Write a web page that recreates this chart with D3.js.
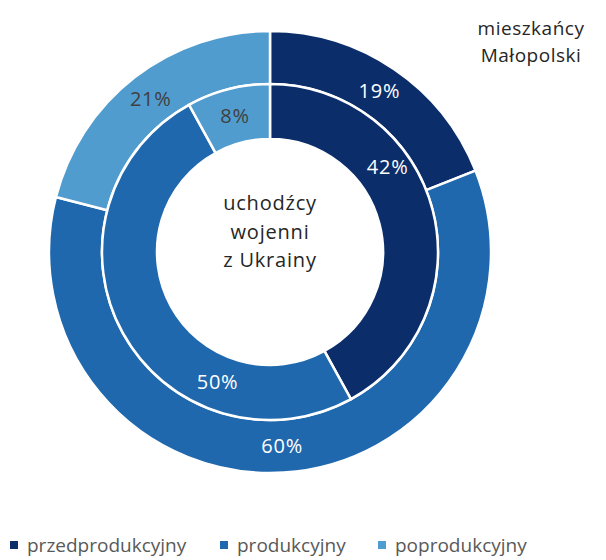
<!DOCTYPE html>
<html>
<head>
<meta charset="utf-8">
<script src="https://cdn.jsdelivr.net/npm/d3@7"></script>
<style>
  body { margin: 0; background: #fff; }
  svg text { font-family: "Open Sans", sans-serif; }
</style>
</head>
<body>
<div id="chart"></div>
<script>
// categories and series
const categories = ['przedprodukcyjny', 'produkcyjny', 'poprodukcyjny'];
const outerValues = [19, 60, 21];   // mieszkańcy Małopolski
const innerValues = [42, 50, 8];    // uchodźcy wojenni z Ukrainy
const outerTitle = ['mieszkańcy', 'Małopolski'];
const innerTitle = ['uchodźcy', 'wojenni', 'z Ukrainy'];

const width = 606, height = 560;
const cx = 270, cy = 252;
const colors = ['#0b2e6b', '#1f68ae', '#519ccf'];
const labelColors = ['#ffffff', '#ffffff', '#404040'];

// Excel moved two inner labels off the centroid; keep that here
const innerLabelAngle = { 0: 54.2, 1: 202 };

const svg = d3.select('#chart').append('svg')
    .attr('width', width)
    .attr('height', height);

const g = svg.append('g').attr('transform', `translate(${cx},${cy})`);

const pie = d3.pie().sort(null).value(d => d);
const color = d3.scaleOrdinal().domain(d3.range(categories.length)).range(colors);

function drawRing(values, r0, r1, overrides) {
    const arc = d3.arc().innerRadius(r0).outerRadius(r1);
    const arcs = pie(values);
    const ring = g.append('g');

    ring.selectAll('path')
        .data(arcs)
        .enter()
        .append('path')
        .attr('d', arc)
        .attr('fill', (d, i) => color(i))
        .attr('stroke', '#fff')
        .attr('stroke-width', 2.5);

    ring.selectAll('text')
        .data(arcs)
        .enter()
        .append('text')
        .attr('transform', (d, i) => {
            if (overrides && overrides[i] !== undefined) {
                const a = overrides[i] * Math.PI / 180;
                const r = i === 0 ? 145 : 140;
                return `translate(${r * Math.sin(a)},${-r * Math.cos(a)})`;
            }
            return `translate(${arc.centroid(d)})`;
        })
        .attr('text-anchor', 'middle')
        .attr('dy', '0.36em')
        .attr('font-size', 20)
        .attr('letter-spacing', 0.8)
        .attr('fill', (d, i) => labelColors[i])
        .text(d => d.data + '%');
}

drawRing(outerValues, 168, 221);
drawRing(innerValues, 113, 168, innerLabelAngle);

// centre title
g.append('text')
    .attr('text-anchor', 'middle')
    .attr('font-size', 20)
    .attr('letter-spacing', 0.8)
    .attr('fill', '#262626')
    .selectAll('tspan')
    .data(innerTitle)
    .enter()
    .append('tspan')
    .attr('x', 0)
    .attr('y', (d, i) => -49 + i * 28.5 + 7)
    .text(d => d);

// outer ring title, top right
svg.append('text')
    .attr('text-anchor', 'middle')
    .attr('font-size', 19)
    .attr('letter-spacing', 0.5)
    .attr('fill', '#262626')
    .selectAll('tspan')
    .data(outerTitle)
    .enter()
    .append('tspan')
    .attr('x', 531)
    .attr('y', (d, i) => 35 + i * 27)
    .text(d => d);

// legend
const legendX = [10, 220, 378];
const legend = svg.append('g').attr('transform', 'translate(0,545)');
const item = legend.selectAll('g')
    .data(categories)
    .enter()
    .append('g')
    .attr('transform', (d, i) => `translate(${legendX[i]},0)`);

item.append('rect')
    .attr('x', 0)
    .attr('y', -4)
    .attr('width', 8)
    .attr('height', 8)
    .attr('fill', (d, i) => color(i));

item.append('text')
    .attr('x', 17)
    .attr('dy', '0.36em')
    .attr('font-size', 19)
    .attr('fill', '#595959')
    .text(d => d);
</script>
</body>
</html>
